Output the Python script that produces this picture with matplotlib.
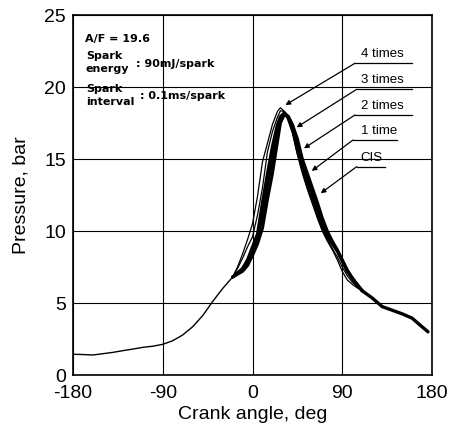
import numpy as np
import matplotlib.pyplot as plt

plt.rcParams['font.family'] = ['Liberation Sans', 'DejaVu Sans']
plt.rcParams['axes.unicode_minus'] = False

# crank angle grid (deg)
angle_base = [-180, -170, -160, -150, -140, -130, -120, -110, -100, -90,
              -80, -70, -60, -50, -40, -30, -20]
angle_comb = [-20, -15, -10, -5, 0, 5, 10, 15, 20, 25, 28, 32, 36, 40,
              45, 50, 55, 60, 65, 70, 75, 80, 85, 90, 95, 100, 105, 110]
angle_tail = [110, 120, 130, 140, 150, 160, 170, 176]

# compression part shared by all runs
base = [1.44, 1.42, 1.39, 1.48, 1.57, 1.69, 1.80, 1.92, 2.00, 2.13,
        2.38, 2.78, 3.35, 4.12, 5.10, 6.00, 6.80]
# expansion tail shared by all runs
tail = [5.85, 5.35, 4.75, 4.50, 4.25, 3.95, 3.35, 3.00]

# combustion part, -20 .. 110
p_4times = [6.8, 7.5, 8.4, 9.4, 10.5, 12.4, 14.8, 16.1, 17.4, 18.3, 18.56,
            18.3, 17.6, 16.8, 15.3, 14.0, 12.9, 11.9, 10.9, 10.0, 9.3,
            8.7, 8.0, 7.2, 6.6, 6.3, 6.05, 5.85]
p_3times = [6.8, 7.4, 8.1, 8.9, 9.6, 11.1, 13.0, 15.5, 16.9, 17.9, 18.35,
            18.3, 17.7, 16.9, 15.5, 14.2, 13.0, 12.0, 11.0, 10.1, 9.4,
            8.8, 8.2, 7.5, 6.9, 6.45, 6.1, 5.85]
p_2times = [6.8, 7.1, 7.4, 8.0, 8.9, 9.8, 12.0, 14.0, 15.9, 17.4, 17.95,
            18.2, 17.9, 17.2, 15.6, 14.4, 13.4, 12.4, 11.3, 10.3, 9.6,
            9.1, 8.6, 7.9, 7.2, 6.7, 6.25, 5.85]
p_1time = [6.8, 7.05, 7.3, 7.8, 8.6, 9.45, 11.1, 13.1, 15.0, 16.9, 17.75,
           18.2, 17.95, 17.35, 16.0, 14.7, 13.7, 12.7, 11.65, 10.6, 9.8,
           9.2, 8.65, 7.95, 7.25, 6.72, 6.28, 5.85]
p_cis = [6.8, 7.0, 7.2, 7.6, 8.3, 9.1, 10.2, 12.2, 14.0, 16.2, 17.5,
         18.1, 17.9, 17.4, 16.4, 15.0, 14.0, 13.0, 12.0, 10.9, 10.0,
         9.3, 8.7, 8.0, 7.3, 6.75, 6.3, 5.85]

labels = ['4 times', '3 times', '2 times', '1 time', 'CIS']
series = [p_4times, p_3times, p_2times, p_1time, p_cis]
widths = [0.9, 0.9, 2.2, 2.2, 2.2]

fig = plt.figure(figsize=(4.55, 4.25), dpi=100)
ax = fig.add_axes([73/455, 50/425, 359/455, 360/425])

ax.plot(angle_base, base, color='black', lw=1.0)
for p, w in zip(series, widths):
    ax.plot(angle_comb, p, color='black', lw=w, solid_capstyle='round')
ax.plot(angle_tail, tail, color='black', lw=2.4, solid_capstyle='round')

# label lines: (underline y, x start, x end, arrow tip)
lab_pos = [(21.65, 102.8, 159.7, (33.0, 18.75)),
           (19.84, 104.5, 159.7, (44.3, 17.2)),
           (18.06, 102.8, 159.7, (51.6, 15.74)),
           (16.32, 100.8, 144.6, (59.4, 14.17)),
           (14.47, 104.5, 132.9, (68.4, 12.62))]
for lab, (yl, x0, x1, tip) in zip(labels, lab_pos):
    ax.plot([x0, x1], [yl, yl], color='black', lw=0.9)
    ax.annotate('', xy=tip, xytext=(x0, yl),
                arrowprops=dict(arrowstyle='-|>', color='black', lw=0.9,
                                mutation_scale=7, shrinkA=0, shrinkB=0))
    ax.text(108.5, yl + 0.2, lab, fontsize=9.5, va='bottom', ha='left')

bold = dict(family='DejaVu Sans', fontweight='bold', fontsize=8,
            transform=ax.transAxes, va='baseline', ha='left')
ax.text(0.033, 0.926, 'A/F = 19.6', **bold)
ax.text(0.036, 0.879, 'Spark', **bold)
ax.text(0.036, 0.842, 'energy', **bold)
ax.text(0.175, 0.856, ': 90mJ/spark', **bold)
ax.text(0.036, 0.786, 'Spark', **bold)
ax.text(0.036, 0.749, 'interval', **bold)
ax.text(0.187, 0.767, ': 0.1ms/spark', **bold)

ax.set_xlim(-180, 180)
ax.set_ylim(0, 25)
ax.set_xticks([-180, -90, 0, 90, 180])
ax.set_yticks([0, 5, 10, 15, 20, 25])
ax.tick_params(axis='x', length=0, pad=7, labelsize=14)
ax.tick_params(axis='y', length=0, pad=5, labelsize=14)
ax.grid(True, color='black', lw=0.8)
for s in ax.spines.values():
    s.set_linewidth(1.2)

ax.set_xlabel('Crank angle, deg', fontsize=14)
ax.set_ylabel('Pressure, bar', fontsize=14)
ax.xaxis.set_label_coords(0.5, -0.085)
ax.yaxis.set_label_coords(-0.12, 0.5)

fig.savefig('out.png', dpi=100)
